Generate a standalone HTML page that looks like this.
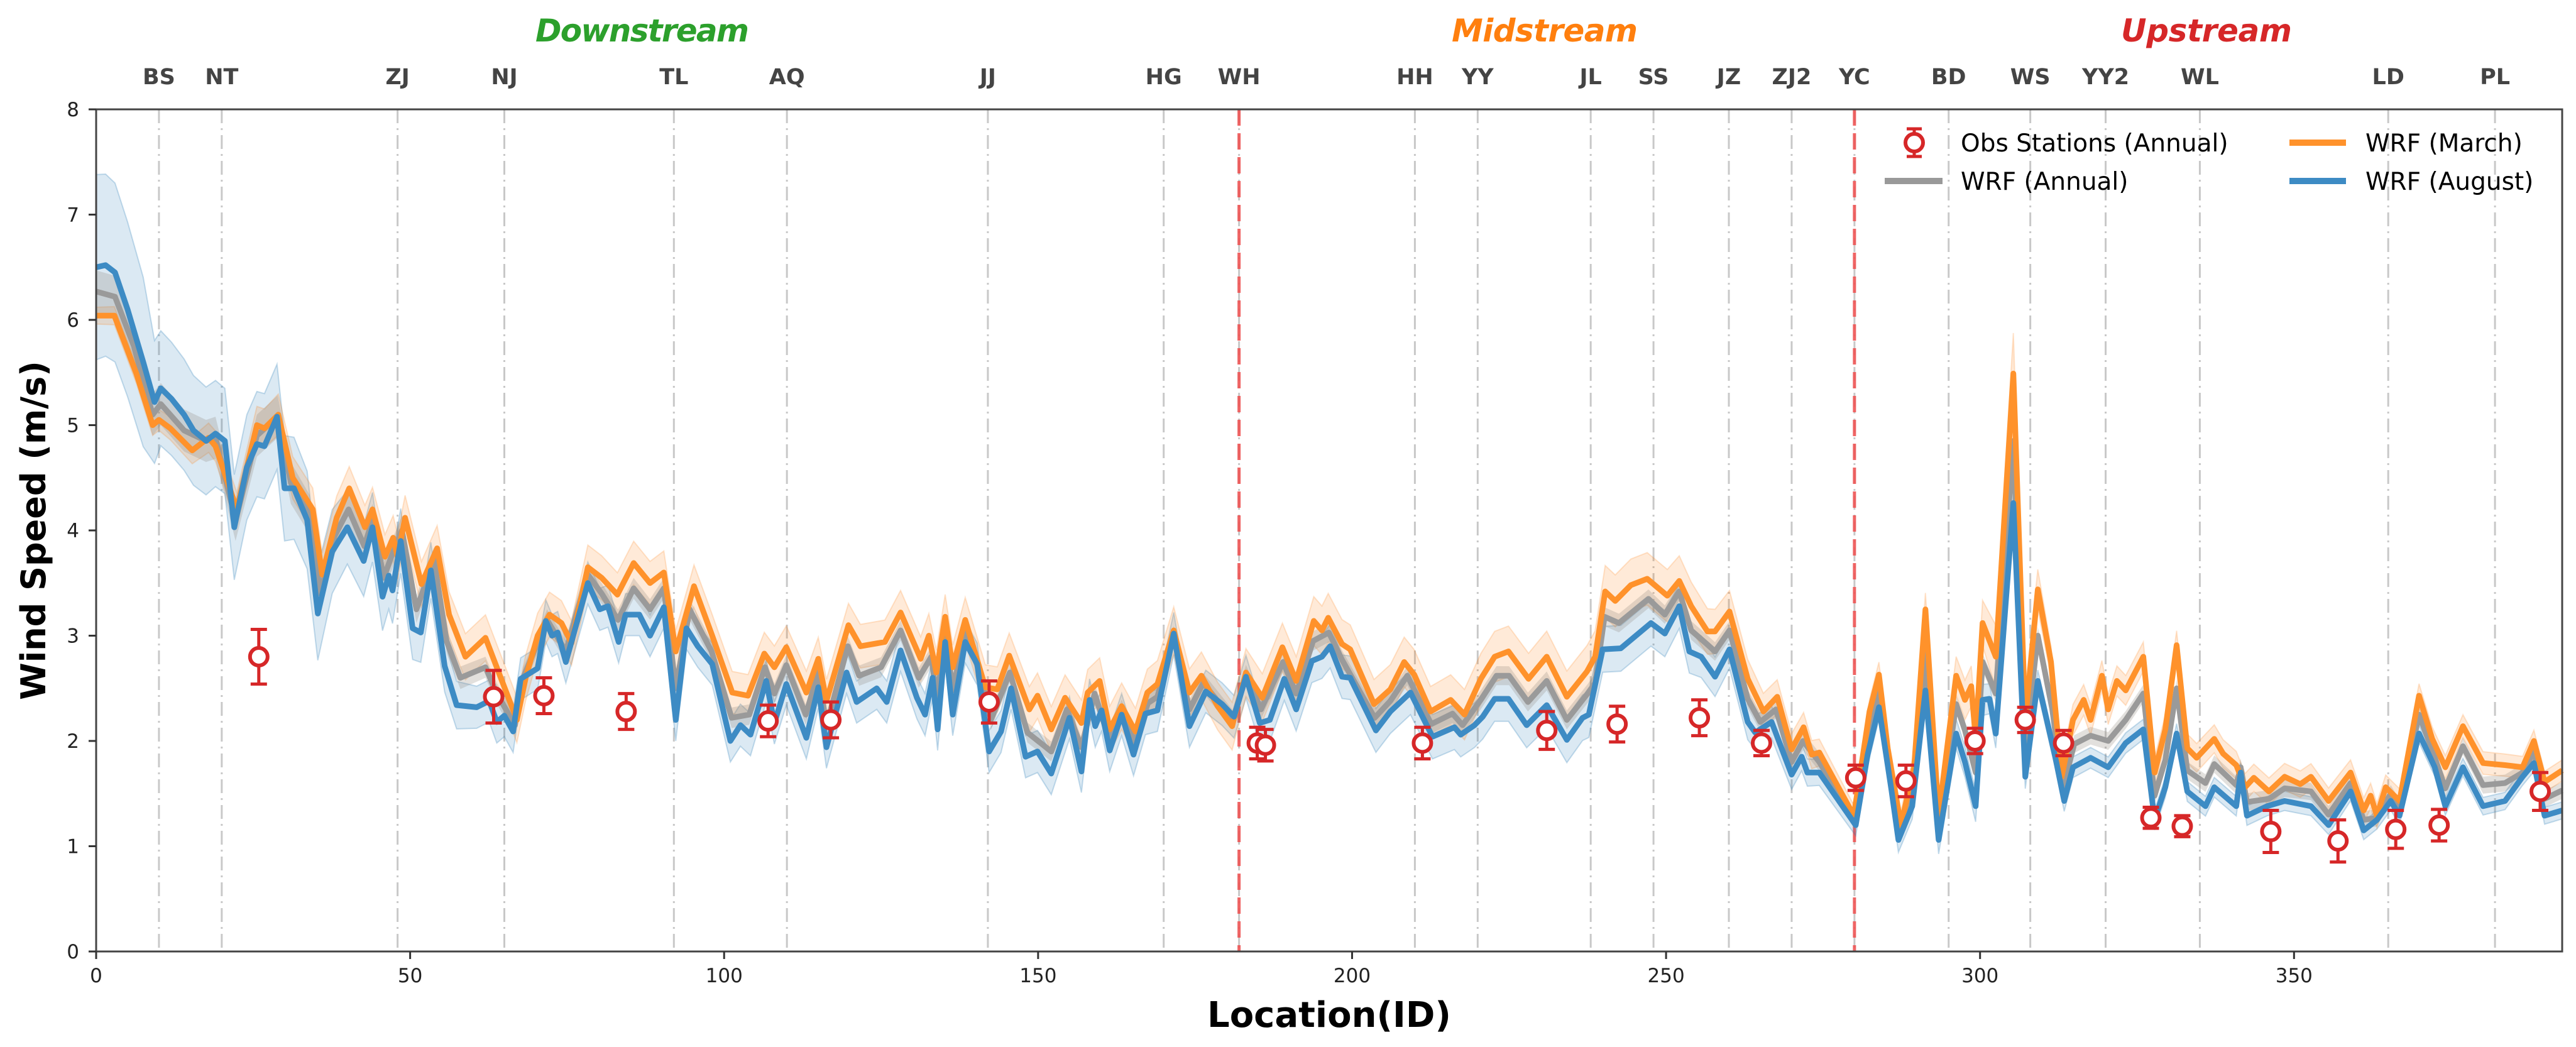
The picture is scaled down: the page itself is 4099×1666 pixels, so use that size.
<!DOCTYPE html>
<html><head><meta charset="utf-8">
<style>
html,body{margin:0;padding:0;background:#fff;}
svg{display:block;font-family:"DejaVu Sans","Liberation Sans",sans-serif;}
</style></head>
<body>
<svg id="chart" width="4099" height="1666" viewBox="0 0 4099 1666" xmlns="http://www.w3.org/2000/svg">
<rect x="0" y="0" width="4099" height="1666" fill="#fff"/>
<g id="grid"></g>
<g id="bands"></g>
<g id="lines"></g>
<g id="obs"></g>
<g id="axes"></g>
<g id="labels"></g>
<text x="1022" y="66" text-anchor="middle" font-size="50" font-weight="bold" font-style="italic" fill="#2ca02c" textLength="340">Downstream</text>
<text x="2458" y="66" text-anchor="middle" font-size="50" font-weight="bold" font-style="italic" fill="#ff7f0e" textLength="296">Midstream</text>
<text x="3511" y="66" text-anchor="middle" font-size="50" font-weight="bold" font-style="italic" fill="#d62728" textLength="272">Upstream</text>
<text transform="translate(72,844) rotate(-90)" text-anchor="middle" font-size="54" font-weight="bold" fill="#000">Wind Speed (m/s)</text>
<text x="2115" y="1634" text-anchor="middle" font-size="56" font-weight="bold" fill="#000">Location(ID)</text>
<g>
  <g>
    <line x1="3046" y1="205" x2="3046" y2="249" stroke="#d62728" stroke-width="5"/>
    <line x1="3034" y1="205" x2="3058" y2="205" stroke="#d62728" stroke-width="5"/>
    <line x1="3034" y1="249" x2="3058" y2="249" stroke="#d62728" stroke-width="5"/>
    <circle cx="3046" cy="227" r="14" fill="#fff" stroke="#d62728" stroke-width="6"/>
    <text x="3120" y="241" font-size="39" fill="#000">Obs Stations (Annual)</text>
  </g>
  <g>
    <line x1="2999" y1="288" x2="3091" y2="288" stroke="#999" stroke-width="10"/>
    <text x="3120" y="302" font-size="39" fill="#000">WRF (Annual)</text>
  </g>
  <g>
    <line x1="3643" y1="227" x2="3733" y2="227" stroke="#ff922b" stroke-width="10"/>
    <text x="3764" y="241" font-size="39" fill="#000">WRF (March)</text>
  </g>
  <g>
    <line x1="3643" y1="288" x2="3733" y2="288" stroke="#3d8bc4" stroke-width="10"/>
    <text x="3764" y="302" font-size="39" fill="#000">WRF (August)</text>
  </g>
</g>
</svg>
<script>
// ---- data ----
const stationNames = ["BS","NT","ZJ","NJ","TL","AQ","JJ","HG","WH","HH","YY","JL","SS","JZ","ZJ2","YC","BD","WS","YY2","WL","LD","PL"];
const stationIds = [10,20,48,65,92,110,142,170,182,210,220,238,248,260,270,280,295,308,320,335,365,382];
const regionBoundaries = [182,280];
const xTicks = [0,50,100,150,200,250,300,350];
const yTicks = [0,1,2,3,4,5,6,7,8];

const augIds = [0,1.5,3,5,7.5,9.3,10.3,12,14,15.5,17.5,19,20.5,22,24,25.6,26.8,28.8,30,31.5,33.6,35.3,37.6,40,42.6,44,45.6,46.6,47.2,48.5,50.4,51.7,53.3,55.5,57.4,60.6,62.6,63.8,65,66.4,67.6,70.3,71.6,72.6,73.5,74.8,78.3,80.2,81.5,83.2,84.3,86.5,88.2,90.4,92.3,94,95.8,98.1,101,102.6,104.2,106.7,108,109.9,113.1,115,116.3,119.5,121.1,124.3,125.9,128.1,130.7,132,133.2,134,135.2,136.4,138.4,140.3,142.2,144.1,145.7,148,149.9,152.1,155,156.9,158.2,159.1,160.1,161.4,163.3,165.2,167.1,169,171.6,174.1,176.7,179.3,181.2,183.1,185.3,186.9,189.2,191.1,193.6,195.2,196.5,198.4,199.7,203.8,206.1,209.3,212.8,216.3,217.3,219.5,220.8,222.7,224.9,227.8,231,234.2,236.7,237.7,239.9,242.8,247.6,249.8,252.1,253.7,255.6,257.8,260.1,263,264.2,266.8,270,271.6,272.5,274.4,280.2,282.1,283.9,285.9,287,289.2,291.3,293.4,296.2,297.6,299.3,300.4,301.5,302.5,305.3,307.2,309.2,312,313.4,314.8,317.6,320.4,323.2,326,327.8,329.5,331.3,333,335.9,337.3,340.8,341.5,342.5,345.7,348.5,352.7,355.5,359,361.1,363.2,365.4,366.8,369.9,372.4,374.1,376.9,380.1,383.6,386.4,388.2,389.9,392.7];
const augVals = [6.5,6.52,6.45,6.1,5.6,5.22,5.35,5.25,5.1,4.95,4.85,4.92,4.85,4.03,4.6,4.82,4.8,5.08,4.4,4.4,4.1,3.21,3.8,4.03,3.71,4.03,3.37,3.57,3.43,3.9,3.07,3.03,3.62,2.71,2.34,2.32,2.38,2.18,2.24,2.09,2.59,2.69,3.14,3.0,3.03,2.75,3.5,3.25,3.28,2.94,3.2,3.2,3.0,3.27,2.2,3.07,2.9,2.73,2.0,2.15,2.06,2.57,2.17,2.54,2.03,2.51,1.94,2.65,2.37,2.5,2.37,2.86,2.41,2.25,2.6,2.11,2.94,2.25,2.94,2.73,1.9,2.09,2.5,1.85,1.9,1.69,2.22,1.71,2.39,2.14,2.29,1.91,2.25,1.87,2.26,2.29,3.02,2.14,2.47,2.35,2.23,2.61,2.17,2.2,2.59,2.3,2.76,2.8,2.9,2.61,2.6,2.1,2.28,2.46,2.04,2.13,2.06,2.15,2.23,2.4,2.4,2.15,2.34,2.01,2.22,2.25,2.87,2.88,3.12,3.02,3.28,2.85,2.8,2.61,2.87,2.18,2.08,2.18,1.68,1.85,1.7,1.7,1.2,1.87,2.32,1.53,1.06,1.38,2.48,1.06,2.07,1.8,1.38,2.39,2.4,2.07,4.26,1.66,2.57,1.84,1.43,1.75,1.84,1.75,1.98,2.11,1.25,1.56,2.07,1.52,1.38,1.56,1.38,1.7,1.29,1.38,1.43,1.38,1.2,1.52,1.15,1.25,1.43,1.29,2.07,1.75,1.38,1.75,1.38,1.43,1.66,1.79,1.29,1.34];

const marIds = [0,2.9,6.4,9,10,11.8,15.3,17.9,19,22.4,25.6,26.8,29,31.3,34.5,36,38.3,40.3,42.8,44,46,47.3,48,49.2,51.8,54.3,56.2,58.8,62,67,68.4,70.3,72.2,74.1,75.7,78.3,80.5,83,85.6,88.2,90.4,92.3,95.2,98.1,101.3,103.8,106.4,108,109.9,113.1,115,116.3,119.8,121.7,125.6,128.1,131.3,132.6,133.8,135.2,136.4,138.4,141.6,143.5,145.4,148.6,149.9,152.1,154.3,156.9,157.9,159.8,161.4,163.3,165.5,167.4,169,171.6,174.1,176,178.6,180.9,183.1,185.7,188.9,191.1,193.9,195.2,196.2,198.4,199.7,203.5,206.1,208.3,209.9,212.5,215.7,217.9,220.5,222.7,224.9,228.1,231,234.2,237.4,238.7,240.3,241.9,244.4,247,250.2,252.1,254,256.6,257.8,260.1,263,265.5,267.7,270,271.9,273.2,274.4,279.9,282.4,283.9,285.3,287.4,289.5,291.3,293.4,296.2,297.6,298.6,299.3,300.4,302.5,305.3,307.2,309.2,311.3,313,314.8,316.5,317.6,319.4,320.4,321.8,323.2,326,327.8,329.5,331.3,333,334.5,337.3,338.7,340.8,342.2,343.6,346,348.5,351,352.7,355.5,359,361.1,362.2,363.2,364.6,366.8,369.9,372,374.1,376.9,380.1,383.6,386.4,388.2,389.9,392.7];
const marVals = [6.04,6.04,5.49,5.0,5.05,4.97,4.76,4.88,4.8,4.2,5.0,4.97,5.1,4.5,4.2,3.58,4.12,4.4,4.03,4.2,3.75,3.93,3.75,4.12,3.49,3.83,3.2,2.8,2.98,2.2,2.6,3.0,3.2,3.12,2.93,3.65,3.55,3.39,3.69,3.5,3.6,2.85,3.47,3.0,2.46,2.43,2.83,2.7,2.89,2.46,2.78,2.38,3.1,2.9,2.94,3.22,2.78,3.0,2.65,3.18,2.7,3.15,2.51,2.49,2.81,2.3,2.43,2.11,2.41,2.17,2.46,2.57,2.11,2.33,2.09,2.46,2.54,3.05,2.46,2.62,2.33,2.14,2.65,2.41,2.89,2.57,3.14,3.05,3.17,2.92,2.87,2.35,2.49,2.75,2.63,2.28,2.39,2.25,2.59,2.8,2.85,2.59,2.8,2.42,2.66,2.8,3.42,3.33,3.48,3.54,3.38,3.52,3.28,3.04,3.04,3.23,2.59,2.28,2.42,1.92,2.13,1.87,1.89,1.29,2.28,2.63,1.93,1.2,1.75,3.25,1.29,2.62,2.39,2.52,2.02,3.12,2.8,5.49,2.2,3.44,2.75,1.66,2.2,2.39,2.2,2.62,2.3,2.57,2.48,2.8,1.7,2.11,2.91,1.93,1.84,2.02,1.88,1.77,1.56,1.65,1.52,1.66,1.59,1.66,1.43,1.7,1.34,1.48,1.29,1.56,1.43,2.43,2.02,1.75,2.14,1.79,1.77,1.75,2.0,1.61,1.72];

const annIds = [0,3,6,9,10.3,14,17.5,19,22.2,25.6,28.9,31,34,35.7,38,40.2,42.7,44,45.8,47,48.7,51,53.8,55.8,58,62,63.8,66.7,68,71.8,74.8,78.3,80.5,83.1,85.6,88.2,90.4,92.3,94.5,98,101.2,104,106.5,108,109.9,113,115,116.3,119.7,121.5,125,128.1,131,133,133.9,135.2,136.4,138.4,141,142.5,145.5,148.3,152.1,154.6,156.9,159,161.4,163.3,165.4,167.5,169,171.6,174.1,176.3,179,181,183.1,185.5,189,191.1,193.8,196.3,198.4,203.6,206.1,208.8,212.6,216,217.6,220.6,223,225,228,231,234.2,237.5,238.7,240.2,242.5,247.2,249.8,252.1,254,256.5,257.8,260.1,263,265,267.5,270,271.8,274.4,280,282.3,283.9,285.5,287.2,289.4,291.3,293.4,296.2,297.6,299.3,300.4,302.5,305.3,307.2,309.2,311.5,313.2,315,317.6,320.4,323.2,326,327.8,329.5,331.3,333,335.9,337.3,340.8,341.5,342.5,346,348.5,352.7,355.5,359,361.1,363.2,365.4,366.8,369.9,372.2,374.1,376.9,380.1,383.6,386.4,388.2,389.9,392.7];
const annVals = [6.27,6.22,5.75,5.1,5.2,4.95,4.85,4.88,4.1,4.9,5.08,4.45,4.15,3.4,3.95,4.2,3.85,4.1,3.55,3.75,4.0,3.25,3.72,2.95,2.6,2.7,2.45,2.15,2.6,3.15,2.85,3.58,3.4,3.15,3.45,3.25,3.45,2.5,3.25,2.85,2.22,2.25,2.7,2.45,2.72,2.25,2.65,2.15,2.9,2.62,2.7,3.05,2.6,2.8,2.38,3.06,2.48,3.05,2.6,2.2,2.65,2.08,1.9,2.3,1.94,2.45,2.0,2.3,1.98,2.36,2.42,3.0,2.3,2.55,2.35,2.2,2.63,2.3,2.75,2.45,2.95,3.03,2.77,2.22,2.38,2.62,2.16,2.26,2.15,2.4,2.62,2.62,2.37,2.57,2.2,2.45,2.55,3.18,3.12,3.35,3.2,3.42,3.05,2.92,2.85,3.05,2.4,2.18,2.3,1.8,2.0,1.8,1.25,2.08,2.48,1.72,1.13,1.55,2.85,1.17,2.35,2.1,1.7,2.75,2.45,4.85,1.93,3.0,2.3,1.55,1.97,2.05,2.0,2.2,2.45,1.48,1.82,2.5,1.72,1.6,1.78,1.58,1.75,1.42,1.45,1.55,1.52,1.3,1.6,1.25,1.27,1.5,1.36,2.25,1.88,1.55,1.95,1.58,1.6,1.7,1.9,1.45,1.53];

const augSpreadIds = [0,8,9.5,20,30,35,40,50,60,100,170,250,280,300,310,393];
const augSpread = [0.88,0.8,0.55,0.5,0.5,0.45,0.35,0.3,0.2,0.2,0.2,0.22,0.1,0.15,0.1,0.08];
const marSpreadIds = [0,10,30,60,100,250,280,300,305,310,393];
const marSpread = [0.08,0.1,0.2,0.22,0.2,0.25,0.1,0.2,0.4,0.15,0.1];
const annSpreadIds = [0,30,60,393];
const annSpread = [0.2,0.2,0.1,0.08];

const obsIds = [25.9,63.3,71.3,84.4,107,117,142.2,184.9,186.2,211.2,231,242.2,255.3,265.2,280.2,288.2,299.2,307.2,313.3,327.2,332.2,346.3,357,366.2,373.1,389.2];
const obsVals = [2.8,2.42,2.43,2.28,2.19,2.2,2.37,1.98,1.96,1.98,2.1,2.16,2.22,1.98,1.65,1.62,2.0,2.2,1.98,1.27,1.19,1.14,1.05,1.16,1.2,1.52];
const obsErr = [0.26,0.25,0.17,0.17,0.15,0.17,0.2,0.15,0.15,0.15,0.18,0.17,0.17,0.12,0.12,0.15,0.12,0.12,0.12,0.1,0.1,0.2,0.2,0.18,0.15,0.18];

// ---- layout ----
const PL = 153, PR = 4077, PT = 174, PB = 1514, XMAX = 392.7;
const NS = "http://www.w3.org/2000/svg";
function xs(v){ return PL + v * (PR - PL) / XMAX; }
function ys(v){ return PB - v * (PB - PT) / 8; }
function mk(tag, attrs, parent){
  const e = document.createElementNS(NS, tag);
  for (const k in attrs) e.setAttribute(k, attrs[k]);
  parent.appendChild(e);
  return e;
}
function interp(ids, vals, x){
  if (x <= ids[0]) return vals[0];
  for (let i = 1; i < ids.length; i++){
    if (x <= ids[i]){ const t = (x - ids[i-1]) / (ids[i] - ids[i-1]); return vals[i-1] + t * (vals[i] - vals[i-1]); }
  }
  return vals[vals.length - 1];
}
function linePath(ids, vals){
  return ids.map((d, i) => (i ? "L" : "M") + xs(d).toFixed(1) + "," + ys(vals[i]).toFixed(1)).join("");
}
function bandPath(ids, vals, sIds, sVals){
  let up = ids.map((d, i) => (i ? "L" : "M") + xs(d).toFixed(1) + "," + ys(vals[i] + interp(sIds, sVals, d)).toFixed(1)).join("");
  let dn = "";
  for (let i = ids.length - 1; i >= 0; i--) dn += "L" + xs(ids[i]).toFixed(1) + "," + ys(vals[i] - interp(sIds, sVals, ids[i])).toFixed(1);
  return up + dn + "Z";
}

const grid = document.getElementById("grid");
const labels = document.getElementById("labels");
stationIds.forEach((s, i) => {
  const l = mk("line", {x1: xs(s), x2: xs(s), y1: PT, y2: PB, stroke: "#c8c8c8", "stroke-width": 3, "stroke-dasharray": "22,8,3,8"}, grid);
  
  
  const t = mk("text", {x: xs(s), y: 134, "text-anchor": "middle", "font-size": 35, "font-weight": "bold", fill: "#444"}, labels);
  t.textContent = stationNames[i];
  
  
});
regionBoundaries.forEach(b => {
  const l = mk("line", {x1: xs(b), x2: xs(b), y1: PT, y2: PB, stroke: "#ee5555", "stroke-width": 5, "stroke-dasharray": "26,12", opacity: 0.9}, grid);
  
  
});

const bands = document.getElementById("bands");
const b1 = mk("path", {d: bandPath(augIds, augVals, augSpreadIds, augSpread), fill: "rgba(31,119,180,0.16)", stroke: "rgba(31,119,180,0.25)", "stroke-width": 2}, bands);


const b2 = mk("path", {d: bandPath(marIds, marVals, marSpreadIds, marSpread), fill: "rgba(255,127,14,0.16)", stroke: "rgba(255,127,14,0.2)", "stroke-width": 2}, bands);


const b3 = mk("path", {d: bandPath(annIds, annVals, annSpreadIds, annSpread), fill: "rgba(140,130,120,0.25)", stroke: "none"}, bands);



const lines = document.getElementById("lines");
const l1 = mk("path", {d: linePath(annIds, annVals), fill: "none", stroke: "#9a9a9a", "stroke-width": 9, "stroke-linejoin": "round"}, lines);


const l2 = mk("path", {d: linePath(marIds, marVals), fill: "none", stroke: "#ff922b", "stroke-width": 9, "stroke-linejoin": "round"}, lines);


const l3 = mk("path", {d: linePath(augIds, augVals), fill: "none", stroke: "#3d8bc4", "stroke-width": 9, "stroke-linejoin": "round"}, lines);



const obs = document.getElementById("obs");
obsIds.forEach((d, i) => {
  const g = mk("g", {}, obs);
  
  
  const x = xs(d), yt = ys(obsVals[i] + obsErr[i]), yb = ys(obsVals[i] - obsErr[i]);
  mk("line", {x1: x, x2: x, y1: yt, y2: yb, stroke: "#d62728", "stroke-width": 5}, g);
  mk("line", {x1: x - 13, x2: x + 13, y1: yt, y2: yt, stroke: "#d62728", "stroke-width": 5}, g);
  mk("line", {x1: x - 13, x2: x + 13, y1: yb, y2: yb, stroke: "#d62728", "stroke-width": 5}, g);
  mk("circle", {cx: x, cy: ys(obsVals[i]), r: 14, fill: "#fff", stroke: "#d62728", "stroke-width": 6}, g);
});

const axes = document.getElementById("axes");
const frame = mk("rect", {x: PL, y: PT, width: PR - PL, height: PB - PT, fill: "none", stroke: "#444", "stroke-width": 3}, axes);


xTicks.forEach(t => {
  mk("line", {x1: xs(t), x2: xs(t), y1: PB, y2: PB + 12, stroke: "#333", "stroke-width": 3}, axes);
  const tx = mk("text", {x: xs(t), y: 1563, "text-anchor": "middle", "font-size": 31, fill: "#222"}, axes);
  tx.textContent = t;
  
  
});
yTicks.forEach(t => {
  mk("line", {x1: PL - 12, x2: PL, y1: ys(t), y2: ys(t), stroke: "#333", "stroke-width": 3}, axes);
  const ty = mk("text", {x: 126, y: ys(t) + 11, "text-anchor": "end", "font-size": 31, fill: "#222"}, axes);
  ty.textContent = t;
  
  
});
</script>
</body></html>
